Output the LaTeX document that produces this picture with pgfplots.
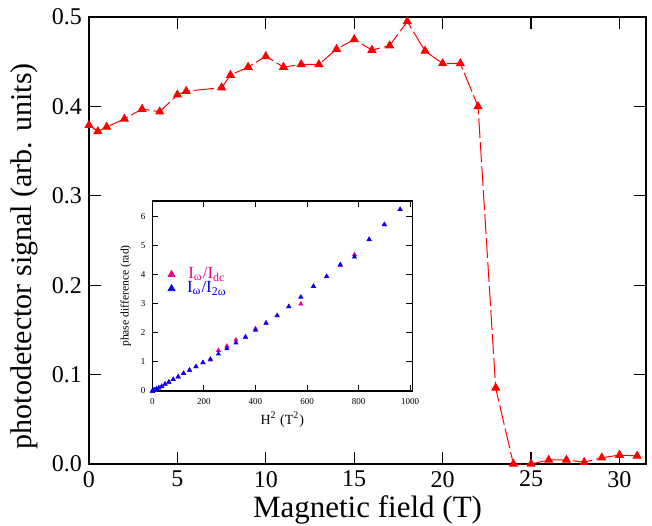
\documentclass[border=0pt]{standalone}
\usepackage{fontspec}
\setmainfont{Liberation Serif}
\usepackage{pgfplots}
\pgfplotsset{compat=1.18}
\begin{document}
\begin{tikzpicture}
\path[use as bounding box] (-44.5pt,-30.5pt) rectangle (281.5pt,232pt);
\begin{axis}[
    scale only axis, width=278.5pt, height=223.5pt,
    at={(0,0)}, anchor=south west,
    xmin=0, xmax=31.5, ymin=0, ymax=0.5,
    xtick={0,5,...,30}, ytick={0,0.1,...,0.5},
    yticklabel style={/pgf/number format/.cd, fixed, fixed zerofill, precision=1},
    tick align=inside, major tick length=6pt,
    axis line style={line width=0.8pt}, tick style={line width=0.6pt, black},
    ticklabel style={font=\fontsize{12}{14}\selectfont},
    /pgf/number format/assume math mode=true,
    xlabel={Magnetic field (T)}, ylabel={photodetector signal (arb. units)},
    xlabel style={font=\fontsize{15.5}{18}\selectfont, yshift=2.5pt},
    ylabel style={font=\fontsize{15}{18}\selectfont, at={(ticklabel cs:0.465)}},
    clip=false,
]
\addplot[red, line width=0.5pt, dash pattern=on 10pt off 2pt, mark=triangle*, mark size=2.2pt,
    mark options={solid, fill=red}] coordinates {
    (0,0.379) (0.5,0.372) (1,0.377) (2,0.386) (3,0.397) (4,0.394) (5,0.413) (5.5,0.417)
    (7.5,0.421) (8,0.435) (9,0.444) (10,0.456) (11,0.444) (12,0.447) (13,0.447)
    (14,0.464) (15,0.475) (16,0.463) (17,0.468) (18,0.495) (19,0.462) (20,0.448)
    (21,0.448) (22,0.400) (23,0.085) (24,0.0) (25,0.0) (26,0.0045) (27,0.0045)
    (28,0.002) (29,0.007) (30,0.010) (31,0.009)
};
\end{axis}
\begin{axis}[
    scale only axis, width=129.9pt, height=95pt,
    at={(31.7pt,36.5pt)}, anchor=south west,
    xmin=0, xmax=1008, ymin=0, ymax=6.55,
    xtick={0,200,...,1000}, ytick={0,1,...,6},
    tick align=inside, major tick length=3pt,
    axis line style={line width=0.7pt}, tick style={line width=0.5pt, black},
    ticklabel style={font=\fontsize{4.5}{5}\selectfont},
    /pgf/number format/assume math mode=true,
    /pgf/number format/1000 sep={},
    xlabel={H\textsuperscript{2} (T\textsuperscript{2})},
    ylabel={phase difference (rad)},
    xlabel style={font=\fontsize{7}{8}\selectfont, yshift=3pt},
    ylabel style={font=\fontsize{5.8}{6.5}\selectfont, yshift=-2pt},
    legend style={at={(axis cs:36,4.55)}, anchor=north west, draw=none, fill=none,
        font=\fontsize{8.5}{9}\selectfont, row sep=-4pt, column sep=4pt},
]
\addlegendimage{only marks, mark=triangle*, mark size=2pt, magenta}
\addlegendentry[text=magenta]{I\textsubscript{ω}/I\textsubscript{dc}}
\addlegendimage{only marks, mark=triangle*, mark size=2pt, blue}
\addlegendentry[text=blue]{I\textsubscript{ω}/I\textsubscript{2ω}}
\addplot[forget plot, only marks, magenta, mark=triangle*, mark size=1.1pt] coordinates {
    (0,0) (1,0.005) (4,0.02) (9,0.04) (16,0.07) (25,0.11) (36,0.16) (49,0.24) (64,0.31)
    (81,0.40) (100,0.49) (121,0.61) (144,0.72) (169,0.84) (196,0.98) (225,1.07)
    (256,1.40) (289,1.55) (324,1.76) (361,1.86) (400,2.15) (441,2.34) (484,2.60)
    (529,2.91) (576,3.00) (625,3.61) (676,3.94) (729,4.33) (784,4.70) (841,5.22)
    (900,5.74) (961,6.26)
};
\addplot[forget plot, only marks, blue, mark=triangle*, mark size=1.1pt] coordinates {
    (0,0) (1,0.005) (4,0.02) (9,0.04) (16,0.07) (25,0.11) (36,0.16) (49,0.24) (64,0.31)
    (81,0.40) (100,0.49) (121,0.61) (144,0.72) (169,0.84) (196,0.98) (225,1.10)
    (256,1.28) (289,1.46) (324,1.66) (361,1.86) (400,2.10) (441,2.34) (484,2.60)
    (529,2.91) (576,3.24) (625,3.61) (676,3.95) (729,4.36) (784,4.62) (841,5.23)
    (900,5.74) (961,6.26)
};
\end{axis}
\end{tikzpicture}
\end{document}
